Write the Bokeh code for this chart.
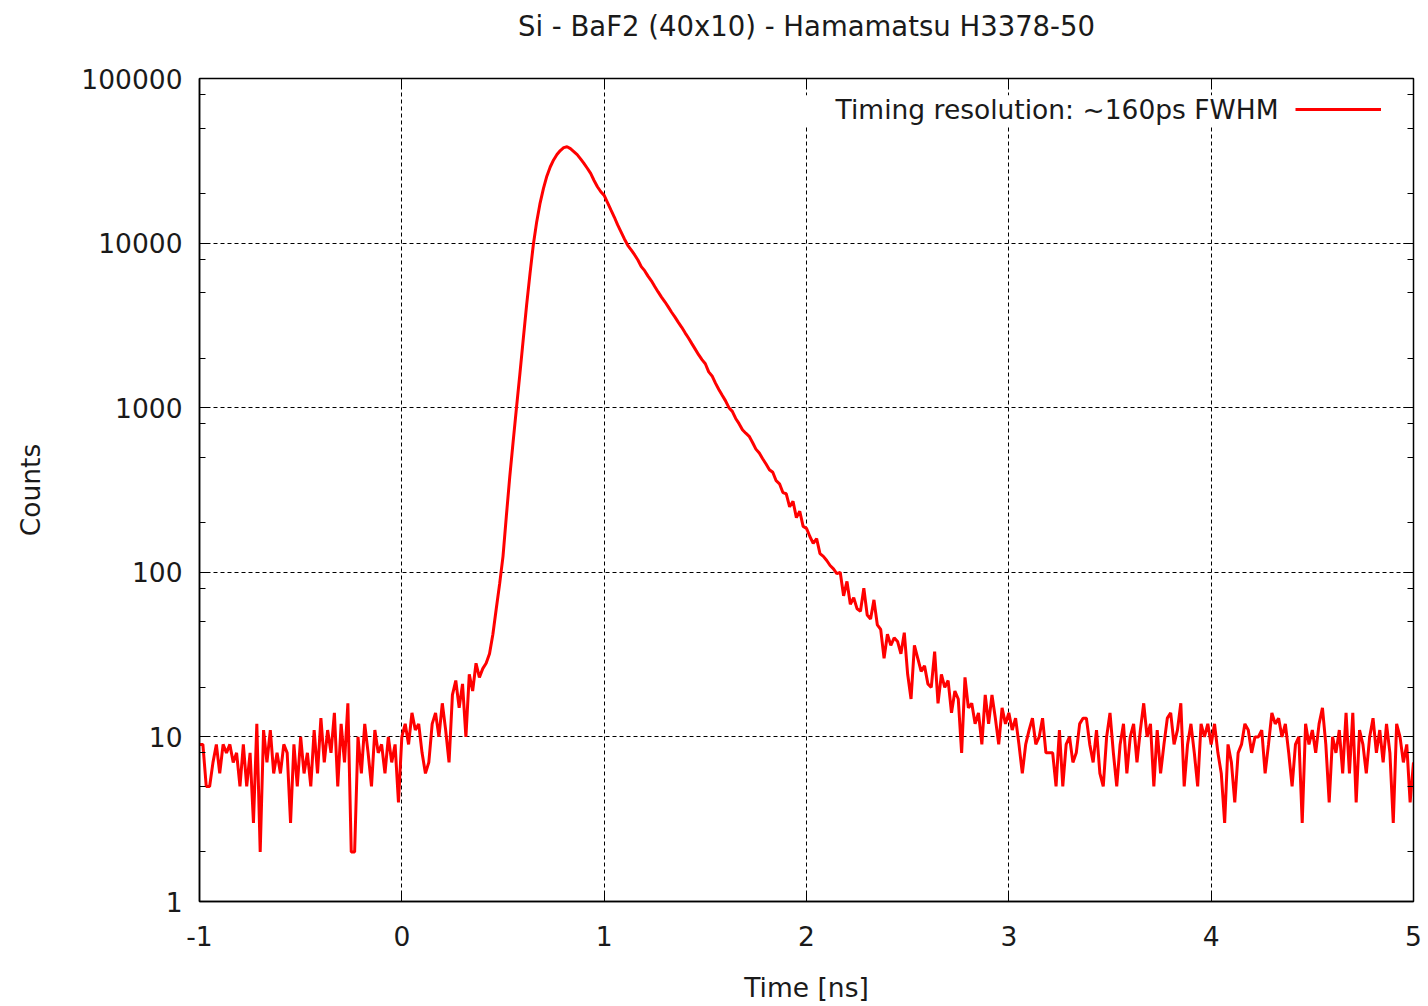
import numpy as np
from bokeh.plotting import figure
from bokeh.models import (Range1d, FixedTicker, LinearAxis, LogAxis, CustomJSTickFormatter,
                          Label, Legend, LegendItem, BoxAnnotation, Title)
from bokeh.embed import file_html
from bokeh.resources import INLINE

# ---------------- data (counts per time bin, bin = 1/60 ns, starting at -1 ns) ----------------
TITLE = "Si - BaF2 (40x10) - Hamamatsu H3378-50"
X_LABEL = "Time [ns]"
Y_LABEL = "Counts"
LEGEND_TEXT = "Timing resolution: ~160ps FWHM"
T_START = -1.0
BIN_NS = 1.0 / 60.0

counts_baseline_pre = [9, 9, 5, 5, 7, 9, 6, 9, 8, 9, 7, 8, 5, 9, 5, 8, 3, 12, 2, 11,
                       7, 11, 6, 8, 6, 9, 8, 3, 9, 5, 10, 6, 8, 5, 11, 6, 13, 7, 11, 8,
                       14, 5, 12, 7, 16, 2, 2, 10, 6, 12, 8, 5, 11, 8, 9, 6, 10, 7, 9, 4]
counts_pretrigger = [10, 12, 9, 14, 11, 12, 8, 6, 7, 12, 14, 10, 16, 11, 7, 18, 22, 15, 21, 10,
                     24, 19, 28, 23]
counts_peak = [26, 28, 32, 42, 60, 85, 125, 220, 380, 620, 1000, 1600, 2600, 4200, 6500, 9800,
               13500, 17500, 21500, 25500, 29000, 32000, 34500, 36500, 38000, 38500, 37500,
               36000, 34500, 32500, 30500, 28500, 26500, 24000, 22000, 20500]
counts_decay_1 = [19500, 17600, 15900, 14400, 12900, 11700, 10600, 9700, 9100, 8500,
                  7900, 7200, 6800, 6300, 5900, 5450, 5050, 4700, 4400, 4100,
                  3800, 3550, 3300, 3080, 2850, 2650, 2450, 2270, 2100, 1960,
                  1850, 1650, 1560, 1410, 1290, 1190, 1100, 1000, 950, 860,
                  800, 735, 700, 670, 615, 560, 530, 490, 455, 420,
                  405, 360, 345, 305, 300, 250, 270, 215, 235, 190]
counts_decay_2 = [185, 165, 150, 160, 130, 125, 118, 110, 105, 98, 100, 72, 88, 64, 70, 60, 58, 80, 55, 52,
                  68, 48, 45, 30, 42, 36, 40, 38, 32, 43, 24, 17, 36, 30, 25, 27, 21, 20, 33, 16,
                  24, 20, 22, 14, 19, 17, 8, 23, 15, 16, 12, 14, 9, 18, 12, 18, 13, 9, 15, 12]
counts_baseline_post = [14, 11, 13, 9, 6, 9, 11, 13, 9, 10, 13, 8, 8, 8, 5, 11, 5, 9, 10, 7,
                        8, 12, 13, 13, 9, 7, 11, 6, 5, 10, 14, 8, 5, 9, 12, 6, 10, 12, 7, 11,
                        16, 10, 12, 5, 11, 6, 9, 13, 14, 9, 11, 16, 5, 9, 12, 8, 5, 12, 10, 12,
                        9, 12, 8, 6, 3, 9, 7, 4, 8, 9, 12, 11, 8, 10, 10, 11, 6, 9, 14, 12,
                        13, 10, 12, 8, 5, 9, 10, 3, 12, 9, 11, 8, 12, 15, 9, 4, 10, 8, 11, 6,
                        14, 6, 14, 4, 11, 9, 6, 10, 13, 8, 11, 7, 12, 8, 3, 12, 10, 7, 9, 4, 7]

x_ticks = [-1, 0, 1, 2, 3, 4, 5]
y_ticks = [1, 10, 100, 1000, 10000, 100000]
y_minor_mult = [2, 5, 8]

counts = np.array(counts_baseline_pre + counts_pretrigger + counts_peak +
                  counts_decay_1 + counts_decay_2 + counts_baseline_post, dtype=float)
time_ns = T_START + np.arange(len(counts)) * BIN_NS

# ---------------- figure ----------------
FONT = "DejaVu Sans"
FS = "26.5px"
TXT = "#1a1a1a"

p = figure(width=1428, height=1006, x_range=Range1d(-1, 5), y_range=Range1d(1, 1e5),
           y_axis_type="log", output_backend="svg", toolbar_location=None, title=None,
           min_border_left=199, min_border_right=15, min_border_top=78, min_border_bottom=105)
p.background_fill_color = "white"
p.border_fill_color = "white"
p.outline_line_color = "black"
p.outline_line_width = 1.5

x_ticker = FixedTicker(ticks=x_ticks, minor_ticks=[])
y_minor = [m * d for d in y_ticks[:-1] for m in y_minor_mult]
y_ticker = FixedTicker(ticks=y_ticks, minor_ticks=y_minor)
int_fmt = CustomJSTickFormatter(code="return tick.toFixed(0);")
blank_fmt = CustomJSTickFormatter(code="return '';")

for ax in (p.xaxis[0], p.yaxis[0]):
    ax.major_tick_in = 10
    ax.major_tick_out = 0
    ax.minor_tick_in = 6
    ax.minor_tick_out = 0
    ax.axis_line_color = "black"
    ax.axis_line_width = 1.5
    ax.major_tick_line_color = "black"
    ax.minor_tick_line_color = "black"
    ax.major_label_text_font = FONT
    ax.major_label_text_font_size = FS
    ax.major_label_text_color = TXT
    ax.axis_label_text_font = FONT
    ax.axis_label_text_font_size = FS
    ax.axis_label_text_font_style = "normal"
    ax.axis_label_text_color = TXT
    ax.formatter = int_fmt

p.xaxis[0].ticker = x_ticker
p.yaxis[0].ticker = y_ticker
p.xaxis[0].axis_label = X_LABEL
p.yaxis[0].axis_label = Y_LABEL
p.xaxis[0].major_label_standoff = 24
p.yaxis[0].major_label_standoff = 17
p.xaxis[0].axis_label_standoff = 23
p.yaxis[0].axis_label_standoff = 32

# mirrored tick axes (gnuplot style)
top_ax = LinearAxis(ticker=x_ticker, formatter=blank_fmt, major_tick_in=10, major_tick_out=0,
                    minor_tick_in=0, minor_tick_out=0, axis_line_color="black",
                    major_label_text_font_size="1px", major_label_standoff=0)
right_ax = LogAxis(ticker=y_ticker, formatter=blank_fmt, major_tick_in=10, major_tick_out=0,
                   minor_tick_in=6, minor_tick_out=0, axis_line_color="black",
                   major_label_text_font_size="1px", major_label_standoff=0)
p.add_layout(top_ax, "above")
p.add_layout(right_ax, "right")

# invisible spacer between the frame and the title
spacer_ax = LinearAxis(ticker=x_ticker, formatter=blank_fmt, major_tick_in=0, major_tick_out=37,
                       minor_tick_in=0, minor_tick_out=0, axis_line_color=None,
                       major_tick_line_color=None, minor_tick_line_color=None,
                       major_label_text_font_size="1px", major_label_standoff=0)
p.add_layout(spacer_ax, "above")

title = Title(text=TITLE, text_font=FONT, text_font_size="27.5px", text_font_style="normal",
              text_color=TXT, align="center", standoff=0)
p.add_layout(title, "above")

for g, tk in ((p.xgrid[0], x_ticker), (p.ygrid[0], y_ticker)):
    g.ticker = tk
    g.grid_line_color = "black"
    g.grid_line_alpha = 1.0
    g.grid_line_width = 1
    g.grid_line_dash = "4 3"

r = p.line(time_ns, counts, line_color="#ff0000", line_width=3)

# white key box (as gnuplot draws it), key text and key sample line
key_box = BoxAnnotation(left=1.95, right=4.93, bottom=52000, top=79000,
                        fill_color="white", fill_alpha=1.0, line_color=None)
p.add_layout(key_box)
key_text = Label(x=4.333, y=64800, text=LEGEND_TEXT, text_align="right", text_baseline="middle",
                 text_font=FONT, text_font_size=FS, text_color=TXT)
p.add_layout(key_text)
legend = Legend(items=[LegendItem(label="", renderers=[r])], location=(1096, 782),
                glyph_width=86, glyph_height=20, label_width=0, label_standoff=0,
                padding=0, spacing=0, margin=0, background_fill_alpha=0, border_line_color=None,
                label_text_font_size="1px")
p.add_layout(legend)

open("out.html", "w").write(file_html(p, INLINE))
